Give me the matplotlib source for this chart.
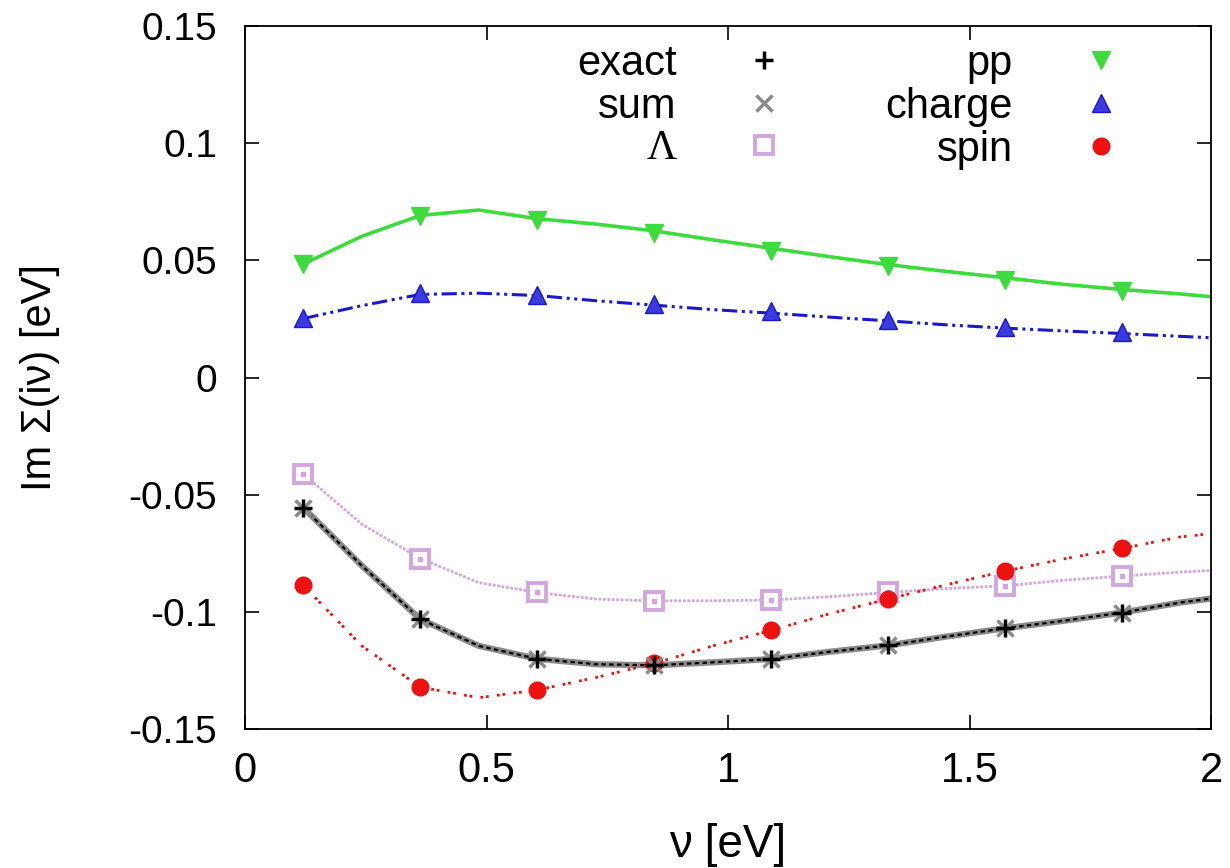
import numpy as np
import matplotlib
matplotlib.use('Agg')
import matplotlib.pyplot as plt
from matplotlib.lines import Line2D

plt.rcParams['font.family'] = ['Liberation Sans', 'DejaVu Sans']

# Matsubara frequencies (markers)
nu = [0.121, 0.363, 0.605, 0.847, 1.089, 1.331, 1.573, 1.815]
# points along the continuous curves
nu_c = [0.121, 0.242, 0.363, 0.484, 0.605, 0.726, 0.847, 0.968, 1.089,
        1.21, 1.331, 1.452, 1.573, 1.694, 1.815, 1.936, 2.0]

pp = [0.0483, 0.0689, 0.0674, 0.0618, 0.0542, 0.0474, 0.0417, 0.0368]
pp_c = [0.0485, 0.0603, 0.0692, 0.0715, 0.0678, 0.0655, 0.0626, 0.0588, 0.0552,
        0.0516, 0.0482, 0.0453, 0.0426, 0.0398, 0.0376, 0.0357, 0.0345]

charge = [0.0254, 0.0361, 0.0352, 0.0312, 0.0283, 0.0246, 0.0215, 0.0195]
charge_c = [0.0252, 0.0307, 0.0355, 0.0360, 0.0350, 0.0328, 0.0309, 0.0290, 0.0275,
            0.0258, 0.0242, 0.0225, 0.0211, 0.0199, 0.0188, 0.0176, 0.0170]

lam = [-0.0412, -0.0772, -0.0917, -0.0953, -0.0950, -0.0917, -0.0889, -0.0847]
lam_c = [-0.0412, -0.0626, -0.0772, -0.0875, -0.0917, -0.0945, -0.0953, -0.0952, -0.0949,
         -0.0935, -0.0917, -0.0900, -0.0889, -0.0865, -0.0847, -0.0830, -0.0823]

exact = [-0.0556, -0.1031, -0.1200, -0.1228, -0.1201, -0.1143, -0.1070, -0.1003]
exact_c = [-0.0556, -0.0803, -0.1031, -0.1145, -0.1200, -0.1223, -0.1228, -0.1215, -0.1201,
           -0.1170, -0.1143, -0.1105, -0.1070, -0.1038, -0.1003, -0.0960, -0.0943]
total = exact
total_c = exact_c

spin = [-0.0887, -0.1321, -0.1333, -0.1220, -0.1079, -0.0945, -0.0826, -0.0729]
spin_c = [-0.0887, -0.1145, -0.1321, -0.1366, -0.1333, -0.1280, -0.1220, -0.1145, -0.1079,
          -0.1008, -0.0945, -0.0884, -0.0826, -0.0774, -0.0729, -0.0680, -0.0666]

green = '#3edb3e'
blue = '#1a1acc'
plum = '#d2a6de'
red = '#ee1111'
grey = '#8a8a8a'

fig = plt.figure(figsize=(12.3, 8.68), dpi=100)
ax = fig.add_axes([0.1992, 0.160, 0.7854, 0.810])

# curves
ax.plot(nu_c, pp_c, color=green, lw=2.6)
ax.plot(nu_c, charge_c, color=blue, lw=2.2, dashes=(5, 1.5, 1, 1.5, 1, 1.5))
ax.plot(nu_c, lam_c, color=plum, lw=2.0, dashes=(1, 0.6))
ax.plot(nu_c, total_c, color=grey, lw=4.5)
ax.plot(nu_c, exact_c, color='black', lw=1.6, dashes=(2, 1.5))
ax.plot(nu_c, spin_c, color=red, lw=2.0, dashes=(1, 1, 1, 3))

# markers
ax.plot(nu, pp, ls='none', marker='v', ms=13, color=green)
ax.plot(nu, charge, ls='none', marker='^', ms=13, color=blue, mfc='#3a3ae0')
ax.plot(nu, lam, ls='none', marker='s', ms=13, mfc='white', mec=plum, mew=2.8)
ax.plot(nu, lam, ls='none', marker='s', ms=3, color=plum)
ax.plot(nu, spin, ls='none', marker='o', ms=12, color=red)
ax.plot(nu, total, ls='none', marker='x', ms=11, mew=2.5, color=grey)
ax.plot(nu, exact, ls='none', marker='+', ms=13, mew=2.5, color='black')

ax.set_xlim(0, 2)
ax.set_ylim(-0.15, 0.15)
ax.set_xticks([0, 0.5, 1, 1.5, 2])
ax.set_xticklabels(['0', '0.5', '1', '1.5', '2'])
ax.set_yticks([-0.15, -0.1, -0.05, 0, 0.05, 0.1, 0.15])
ax.set_yticklabels(['-0.15', '-0.1', '-0.05', '0', '0.05', '0.1', '0.15'])
ax.tick_params(direction='in', top=True, right=True, length=10, width=1.2)
ax.tick_params(axis='y', labelsize=28, pad=20)
ax.tick_params(axis='x', labelsize=30, pad=16)
for s in ax.spines.values():
    s.set_linewidth(1.3)

ax.set_xlabel('ν [eV]', fontsize=33)
ax.xaxis.set_label_coords(0.5, -0.165)
ax.xaxis.label.set_va('center')
ax.set_ylabel('Im Σ(iν) [eV]', fontsize=30)
ax.yaxis.set_label_coords(-0.212, 0.5)
ax.yaxis.label.set_va('center')

# key: points only, text right-aligned before the symbol
handles = [
    Line2D([], [], ls='none', marker='+', ms=13, mew=2.5, color='black'),
    Line2D([], [], ls='none', marker='x', ms=11, mew=2.5, color=grey),
    Line2D([], [], ls='none', marker='s', ms=13, mfc='white', mec=plum, mew=2.8),
    Line2D([], [], ls='none', marker='v', ms=13, color=green),
    Line2D([], [], ls='none', marker='^', ms=13, color=blue, mfc='#3a3ae0'),
    Line2D([], [], ls='none', marker='o', ms=12, color=red),
]
labels = ['exact', 'sum', 'Λ', 'pp', 'charge', 'spin']
leg = ax.legend(handles, labels, ncol=2, markerfirst=False, frameon=False,
                fontsize=30, loc='upper right', bbox_to_anchor=(0.946, 1.028),
                handlelength=1.0, handletextpad=1.6, columnspacing=2.42,
                labelspacing=0.07)
leg.get_texts()[2].set_fontfamily(['Liberation Serif', 'DejaVu Serif'])

fig.savefig('out.png', dpi=100)
